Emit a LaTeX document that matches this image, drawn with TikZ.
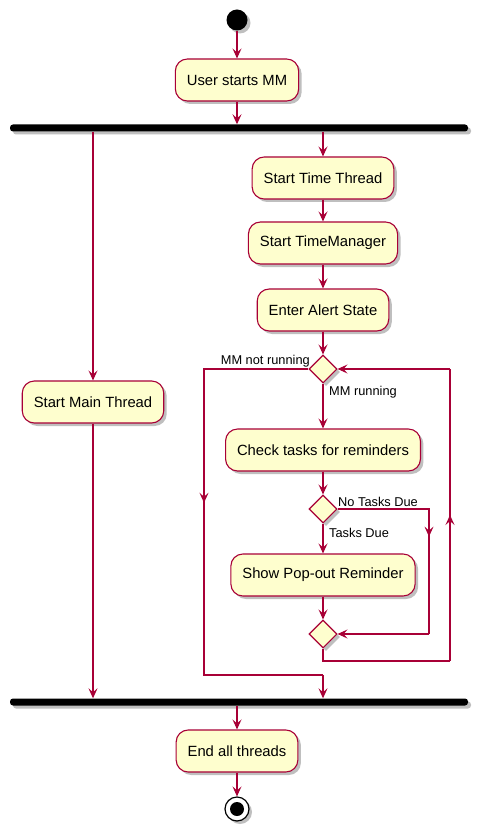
\documentclass[tikz,border=0pt]{standalone}
\usepackage{fontspec}
\setmainfont{Liberation Sans}
\usetikzlibrary{arrows.meta,shapes.geometric,shadows,decorations.markings}
\definecolor{pborder}{HTML}{A80036}
\definecolor{pfill}{HTML}{FEFECE}
\begin{document}
\begin{tikzpicture}[x=1pt,y=-1pt,
  shad/.style={drop shadow={shadow xshift=3pt,shadow yshift=-3pt,opacity=0.25,fill=black}},
  act/.style={rectangle,rounded corners=12pt,draw=pborder,fill=pfill,line width=1.1pt,
    minimum height=42pt,inner xsep=11.5pt,font=\fontsize{14.8}{16}\selectfont,shad},
  dia/.style={diamond,draw=pborder,fill=pfill,line width=1.1pt,minimum width=28pt,minimum height=28pt,inner sep=0pt,shad},
  bar/.style={rectangle,fill=black,rounded corners=3pt,minimum width=458pt,minimum height=7pt,inner sep=0pt,shad},
  lbl/.style={font=\fontsize{12.8}{14}\selectfont,inner sep=1pt},
  tip/.style={-{Stealth[length=10pt,width=9pt,inset=4pt]}},
  ln/.style={draw=pborder,line width=1.1pt},
  arr/.style={ln,tip},
  midarr/.style={ln,postaction={decorate},decoration={markings,mark=at position #1 with {\arrow{Stealth[length=10pt,width=9pt,inset=4pt]}}}}
]
\useasboundingbox (0,0) rectangle (485,834);
\node[circle,fill=black,minimum size=21pt,inner sep=0pt,shad] (start) at (237,20) {};
\node[act] (usm) at (237,80) {User starts MM};
\node[bar] (fork) at (239,128) {};
\node[act] (main) at (93,402) {Start Main Thread};
\node[act] (tt) at (323,178) {Start Time Thread};
\node[act] (tm) at (323,243) {Start TimeManager};
\node[act] (eas) at (323,310) {Enter Alert State};
\node[dia] (d1) at (323,369) {};
\node[act] (check) at (323,450) {Check tasks for reminders};
\node[dia] (d2) at (323,509) {};
\node[act] (show) at (323,575) {Show Pop-out Reminder};
\node[dia] (d3) at (323,634) {};
\node[bar] (join) at (239,702) {};
\node[act] (endt) at (237,751) {End all threads};
\node[circle,draw=black,fill=white,line width=1.2pt,minimum size=24pt,inner sep=0pt,shad] (stop) at (237,809) {};
\node[circle,fill=black,minimum size=14pt,inner sep=0pt] (stopin) at (stop) {};

\node[lbl,anchor=south east] (l1) at (311,368) {MM not running};
\node[lbl,anchor=west] (l2) at (328,392) {MM running};
\node[lbl,anchor=south west] (l3) at (337,508) {No Tasks Due};
\node[lbl,anchor=west] (l4) at (328,533) {Tasks Due};

\coordinate (c1) at (204,369);
\coordinate (c2) at (204,675);
\coordinate (c3) at (323,675);
\coordinate (c4) at (429,509);
\coordinate (c5) at (429,634);
\coordinate (c6) at (323,661);
\coordinate (c7) at (450,661);
\coordinate (c8) at (450,369);

\draw[arr] (start) -- (usm);
\draw[arr] (usm) -- (usm |- fork.north);
\draw[arr] (main |- fork.south) -- (main);
\draw[arr] (tt |- fork.south) -- (tt);
\draw[arr] (tt) -- (tm);
\draw[arr] (tm) -- (eas);
\draw[arr] (eas) -- (d1);
\draw[arr] (d1) -- (check);
\draw[midarr=0.45] (d1.west) -- (c1) -- (c2) -- (c3);
\draw[arr] (c3) -- (c3 |- join.north);
\draw[arr] (check) -- (d2);
\draw[arr] (d2) -- (show);
\draw[arr] (show) -- (d3);
\draw[midarr=0.55] (d2.east) -- (c4) -- (c5);
\draw[arr] (c5) -- (d3.east);
\draw[ln] (d3.south) -- (c6) -- (c7);
\draw[midarr=0.5] (c7) -- (c8);
\draw[arr] (c8) -- (d1.east);
\draw[arr] (main) -- (main |- join.north);
\draw[arr] (endt |- join.south) -- (endt);
\draw[arr] (endt) -- (stop);
\end{tikzpicture}
\end{document}
